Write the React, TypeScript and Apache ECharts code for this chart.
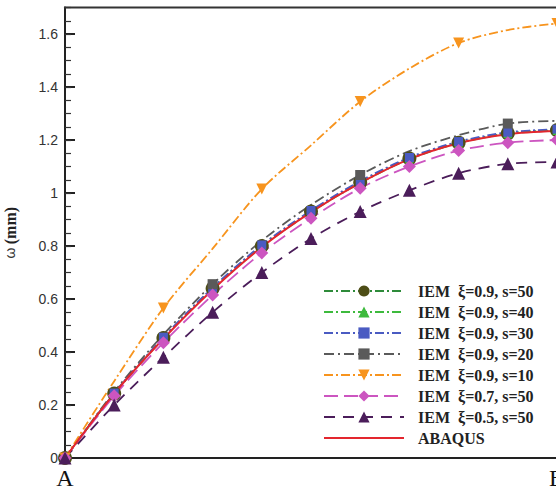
import React, { useEffect, useRef } from "react";
import * as echarts from "echarts";

const xTicks = ["A", "B"];
const xIndex = [0, 1, 2, 3, 4, 5, 6, 7, 8, 9, 10];

const seriesNames = [
  "IEM\u00a0\u00a0ξ=0.9, s=50",
  "IEM\u00a0\u00a0ξ=0.9, s=40",
  "IEM\u00a0\u00a0ξ=0.9, s=30",
  "IEM\u00a0\u00a0ξ=0.9, s=20",
  "IEM\u00a0\u00a0ξ=0.9, s=10",
  "IEM\u00a0\u00a0ξ=0.7, s=50",
  "IEM\u00a0\u00a0ξ=0.5, s=50",
  "ABAQUS",
];

const iem09s50 = [0, 0.243, 0.453, 0.64, 0.8, 0.93, 1.04, 1.13, 1.19, 1.225, 1.237];
const iem09s40 = [0, 0.243, 0.452, 0.638, 0.798, 0.928, 1.038, 1.128, 1.188, 1.224, 1.236];
const iem09s30 = [0, 0.245, 0.456, 0.643, 0.804, 0.934, 1.045, 1.134, 1.194, 1.229, 1.241];
const iem09s20 = [0, 0.25, 0.466, 0.656, 0.82, 0.955, 1.068, 1.158, 1.218, 1.262, 1.272];
const iem09s10 = [0, 0.29, 0.566, 0.79, 1.015, 1.18, 1.345, 1.47, 1.566, 1.615, 1.64];
const iem07s50 = [0, 0.235, 0.435, 0.615, 0.774, 0.905, 1.018, 1.1, 1.16, 1.19, 1.2];
const iem05s50 = [0, 0.2, 0.38, 0.55, 0.7, 0.828, 0.93, 1.01, 1.075, 1.11, 1.117];
const abaqus = [0, 0.243, 0.45, 0.635, 0.796, 0.928, 1.038, 1.128, 1.188, 1.222, 1.234];

// marker shown every Nth point per series
const markerEvery = [1, 1, 1, 3, 2, 1, 1, 0];

const yMax = 1.7;

function pairs(vals: number[], every: number) {
  return xIndex.map((x, i) =>
    every > 0 && i % every === 0
      ? { value: [x, vals[i]] }
      : { value: [x, vals[i]], symbolSize: 0 }
  );
}

export default function App() {
  const ref = useRef<HTMLDivElement>(null);
  useEffect(() => {
    if (!ref.current) return;
    const chart = echarts.init(ref.current, null, { renderer: "svg" });
    const dashDot = [9, 3, 2, 3];
    const mk = (
      idx: number,
      vals: number[],
      lineColor: string,
      markColor: string,
      symbol: string,
      size: number,
      dash: any,
      rotate = 0
    ) => ({
      name: seriesNames[idx],
      type: "line",
      data: pairs(vals, markerEvery[idx]),
      smooth: 0.3,
      symbol,
      symbolSize: size,
      symbolRotate: rotate,
      showSymbol: true,
      showAllSymbol: true,
      lineStyle: { color: lineColor, width: 1.8, type: dash },
      itemStyle: { color: markColor, opacity: 1 },
    });
    chart.setOption({
      animation: false,
      backgroundColor: "#ffffff",
      grid: {
        left: 65,
        right: -1,
        top: 7.5,
        bottom: 36,
        show: false,
        containLabel: false,
        outerBoundsMode: "none",
      },
      legend: {
        orient: "vertical",
        left: 323,
        top: 283,
        padding: 0,
        itemWidth: 80,
        itemHeight: 14,
        itemGap: 5,
        textStyle: {
          fontFamily: "Liberation Serif",
          fontWeight: "bold",
          fontSize: 16,
          lineHeight: 16,
          color: "#222",
          padding: [0, 0, 0, 9],
        },
        data: [
          seriesNames[0],
          seriesNames[1],
          seriesNames[2],
          seriesNames[3],
          seriesNames[4],
          seriesNames[5],
          seriesNames[6],
          { name: seriesNames[7], itemStyle: { opacity: 0 } },
        ],
      },
      xAxis: {
        type: "value",
        min: 0,
        max: 10,
        interval: 10,
        axisLine: { lineStyle: { color: "#222", width: 2 } },
        axisTick: { show: false },
        splitLine: { show: false },
        axisLabel: {
          formatter: (v: number) => (v === 0 ? xTicks[0] : v === 10 ? xTicks[1] : ""),
          fontFamily: "Liberation Serif",
          fontSize: 24,
          color: "#111",
          margin: 8,
        },
      },
      yAxis: [
        {
          type: "value",
          min: 0,
          max: yMax,
          interval: 0.2,
          position: "left",
          name: "{w|ω} {b|(mm)}",
          nameLocation: "middle",
          nameRotate: 90,
          nameGap: 47,
          nameTextStyle: {
            rich: {
              w: { fontFamily: "Liberation Sans", fontSize: 14, color: "#333" },
              b: {
                fontFamily: "Liberation Serif",
                fontWeight: "bold",
                fontSize: 16,
                color: "#222",
              },
            },
          },
          axisLine: { show: true, lineStyle: { color: "#222", width: 2 } },
          axisTick: { inside: true, length: 10, lineStyle: { color: "#222", width: 2 } },
          splitLine: { show: false },
          axisLabel: {
            showMaxLabel: false,
            formatter: (v: number) => (v > 1.65 ? "" : String(Math.round(v * 10) / 10)),
            fontFamily: "Liberation Sans",
            fontSize: 14,
            color: "#333",
            margin: 7,
          },
        },
        {
          type: "value",
          min: 0,
          max: yMax,
          interval: 0.05,
          position: "left",
          axisLine: { show: false },
          axisTick: { inside: true, length: 6, lineStyle: { color: "#333", width: 1.2 } },
          axisLabel: { show: false },
          splitLine: { show: false },
        },
      ],
      graphic: [
        {
          type: "line",
          shape: { x1: 64, y1: 7.5, x2: 556, y2: 7.5 },
          style: { stroke: "#333", lineWidth: 2 },
          z: 10,
        },
      ],
      series: [
        mk(0, iem09s50, "#2e8b3a", "#4d4d16", "circle", 14, dashDot),
        mk(1, iem09s40, "#3dba3d", "#3dba3d", "triangle", 9, dashDot),
        mk(2, iem09s30, "#4a5bc2", "#4a5bc2", "rect", 9, dashDot),
        mk(3, iem09s20, "#5a5a5a", "#5a5a5a", "rect", 10, [10, 4, 2, 4]),
        mk(4, iem09s10, "#f7941e", "#f7941e", "triangle", 11, dashDot, 180),
        mk(5, iem07s50, "#cc55c0", "#cc55c0", "diamond", 13, [14, 6]),
        mk(6, iem05s50, "#4b1d5a", "#4b1d5a", "triangle", 13, [11, 8]),
        {
          name: seriesNames[7],
          type: "line",
          data: abaqus.map((v, i) => [xIndex[i], v]),
          smooth: 0.3,
          symbol: "none",
          lineStyle: { color: "#e3262e", width: 2, type: "solid" },
          itemStyle: { color: "#e3262e" },
        },
      ],
    });
    return () => chart.dispose();
  }, []);
  return (
    <div
      ref={ref}
      style={{ position: "fixed", left: 0, top: 0, width: 556, height: 494, background: "#fff" }}
    />
  );
}
